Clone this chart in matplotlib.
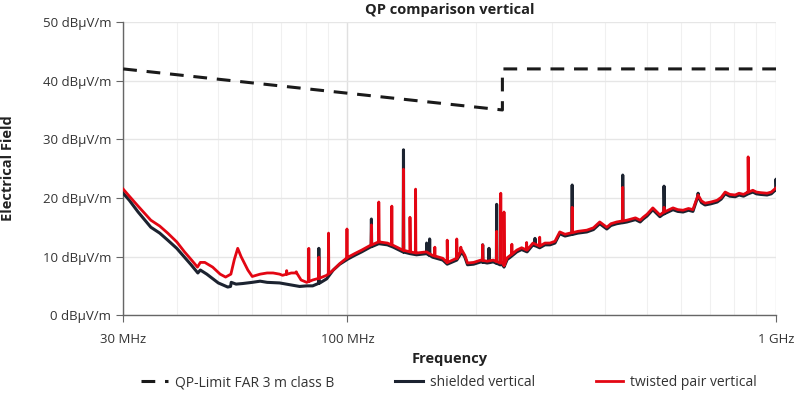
import matplotlib

matplotlib.use("Agg")
import matplotlib.pyplot as plt
from matplotlib.ticker import FixedLocator, NullFormatter
import numpy as np

plt.rcParams["font.family"] = ["Open Sans", "DejaVu Sans"]

# QP limit, FAR 3 m class B
LIMIT_F = [30, 230, 230, 1000]
LIMIT_DB = [42, 35, 42, 42]

# twisted pair baseline (MHz, dBuV/m)
TP_F = [30, 31, 32.5, 34.8, 36.5, 38.1, 40, 41.7, 43.2, 44.7, 45.4, 46.5, 48.5, 50.5,
        52, 53.5, 54.5, 55.5, 56.5, 58.6, 60, 62.6, 65, 67.1, 69.5, 70.6, 74, 76.2,
        78, 80.4, 83, 86, 89.5, 92.7, 96, 100.4, 104, 108, 113, 118.4, 124, 128,
        134.6, 140, 145, 153, 158, 167, 171, 180, 185, 188, 190.7, 197, 205, 212,
        219, 227, 230.5, 232, 236, 240, 248.5, 255, 262.6, 271, 281, 289, 297, 305,
        313, 322, 331, 345, 362, 375, 388, 403, 412, 425, 449, 470, 482, 490, 500,
        516, 536, 548, 560, 575, 590, 607, 625, 640, 658, 670, 683, 705, 729, 745,
        761, 780, 803, 820, 840, 861, 883, 900, 920, 953, 975, 1000]
TP_DB = [21.5, 20.3, 18.6, 16.2, 15.2, 14.0, 12.5, 10.8, 9.5, 8.2, 9.0, 9.0, 8.2, 7.0,
         6.5, 7.0, 9.5, 11.4, 10.0, 7.7, 6.6, 7.0, 7.2, 7.2, 7.0, 6.8, 7.2, 7.2,
         6.0, 5.6, 6.0, 6.3, 6.8, 7.7, 8.8, 9.9, 10.5, 11.1, 11.9, 12.5, 12.3, 11.9,
         11.1, 10.8, 10.6, 10.8, 10.2, 9.7, 9.0, 9.7, 11.1, 10.2, 8.9, 9.0, 9.4, 9.2,
         9.4, 8.9, 8.9, 8.5, 9.8, 10.2, 11.1, 11.5, 11.1, 12.3, 11.8, 12.3, 12.3, 12.6,
         14.2, 13.8, 14.0, 14.3, 14.5, 14.9, 15.9, 15.0, 15.6, 15.9, 16.2, 16.6, 16.2, 16.7, 17.2,
         18.3, 17.1, 17.6, 17.9, 18.3, 18.0, 17.9, 18.2, 18.0, 20.5, 19.5, 19.1, 19.3, 19.6, 20.1,
         21.0, 20.6, 20.5, 20.8, 20.6, 21.0, 21.3, 21.0, 20.9, 20.8, 21.0, 21.7]

# shielded baseline (MHz, dBuV/m)
SH_F = [30, 31, 32.5, 34.8, 36.5, 38.1, 40, 41.7, 43.2, 44.8, 45.4, 47, 50, 52.6,
        53.4, 53.6, 55, 57, 60, 62.6, 65, 69.5, 72, 77.4, 80.4, 83, 86.3, 89.5,
        92.7, 96, 100.4, 104, 108, 113, 118.4, 124, 128, 134.6, 140, 145, 153, 158,
        167, 171, 180, 185, 188, 190.7, 197, 205, 212, 219, 227, 230.5, 232, 236, 240,
        248.5, 255, 262.6, 271, 281, 289, 297, 305, 313, 322, 331, 345, 362, 375, 388,
        403, 412, 425, 449, 470, 482, 490, 500, 516, 536, 548, 560, 575, 590, 607, 625,
        640, 658, 670, 683, 705, 729, 745, 761, 780, 803, 820, 840, 861, 883, 900, 920,
        953, 975, 1000]
SH_DB = [20.8, 19.6, 17.6, 15.0, 14.0, 12.8, 11.4, 9.9, 8.6, 7.2, 7.7, 7.0, 5.5, 4.8,
         4.9, 5.6, 5.3, 5.4, 5.6, 5.8, 5.6, 5.5, 5.3, 4.9, 5.0, 5.0, 5.5, 6.2,
         7.7, 8.7, 9.6, 10.2, 10.8, 11.6, 12.2, 12.0, 11.6, 10.8, 10.5, 10.3, 10.5, 9.9,
         9.4, 8.7, 9.4, 10.8, 9.9, 8.6, 8.7, 9.1, 8.9, 9.1, 8.6, 8.6, 8.2, 9.5, 9.9,
         10.8, 11.2, 10.8, 12.0, 11.5, 12.0, 12.0, 12.3, 13.9, 13.5, 13.7, 14.0, 14.2, 14.6, 15.6,
         14.7, 15.3, 15.6, 15.9, 16.3, 15.9, 16.4, 16.9, 18.0, 16.8, 17.3, 17.6, 18.0, 17.7, 17.6,
         17.9, 17.7, 20.2, 19.2, 18.8, 19.0, 19.3, 19.8, 20.7, 20.3, 20.2, 20.5, 20.3, 20.7, 21.0,
         20.7, 20.6, 20.5, 20.7, 21.4]

# narrowband spikes (MHz, peak dBuV/m)
TP_SPIKE_F = [72.2, 76, 81.3, 85.8, 90.4, 99.8, 113.8, 118.4, 127, 135.2, 140, 144.3,
              160, 171, 180, 184, 206.9, 223, 228, 232, 242, 262, 281, 334.6, 439, 548, 861]
TP_SPIKE_DB = [7.6, 7.4, 11.4, 9.9, 14.0, 14.7, 15.4, 19.3, 18.6, 24.9, 16.7, 21.5,
               11.6, 12.8, 13.0, 11.6, 12.0, 14.3, 20.8, 17.6, 12.1, 12.4, 13.3, 18.4, 21.8, 18.4, 27.0]
SH_SPIKE_F = [85.8, 113.8, 135.2, 153.1, 155.6, 206.9, 214, 223, 274, 334.6, 439, 548, 658, 1000]
SH_SPIKE_DB = [11.4, 16.4, 28.2, 12.3, 13.0, 12.0, 11.4, 18.9, 13.1, 22.2, 23.9, 22.0, 20.8, 23.2]


def with_spikes(base_f, base_db, spike_f, spike_db):
    f = np.array(base_f, dtype=float)
    db = np.array(base_db, dtype=float)
    pts = list(zip(f, db))
    for sf, sd in zip(spike_f, spike_db):
        foot = np.interp(sf, f, db)
        pts += [(sf * 0.9985, foot), (sf, sd), (sf * 1.0015, foot)]
    pts.sort(key=lambda p: p[0])
    return [p[0] for p in pts], [p[1] for p in pts]


fig = plt.figure(figsize=(8, 3.93), dpi=100)
ax = fig.add_axes([0.154, 0.198, 0.816, 0.746])

ax.plot(LIMIT_F, LIMIT_DB, color="#1a1a1a", lw=2.2, dashes=(4.5, 3.2),
        label="QP-Limit FAR 3 m class B", zorder=3)
sf, sd = with_spikes(SH_F, SH_DB, SH_SPIKE_F, SH_SPIKE_DB)
ax.plot(sf, sd, color="#1c2330", lw=2.2, label="shielded vertical", zorder=4)
tf, td = with_spikes(TP_F, TP_DB, TP_SPIKE_F, TP_SPIKE_DB)
ax.plot(tf, td, color="#e30613", lw=2.0, label="twisted pair vertical", zorder=5)

ax.set_xscale("log")
ax.set_xlim(30, 1000)
ax.set_ylim(0, 50)
ax.xaxis.set_major_locator(FixedLocator([30, 100, 1000]))
ax.set_xticklabels(["30 MHz", "100 MHz", "1 GHz"])
ax.xaxis.set_minor_locator(FixedLocator([40, 50, 60, 70, 80, 90, 200, 300, 400,
                                         500, 600, 700, 800, 900]))
ax.xaxis.set_minor_formatter(NullFormatter())
ax.set_yticks(range(0, 51, 10))
ax.set_yticklabels([f"{v} dBµV/m" for v in range(0, 51, 10)])

ax.grid(True, which="major", axis="y", color="#e6e6e6", lw=1.0)
ax.grid(True, which="major", axis="x", color="#e0e0e0", lw=1.0)
ax.grid(True, which="minor", axis="x", color="#f0f0f0", lw=0.8)
ax.tick_params(axis="both", which="major", length=5, color="#666666",
               labelsize=9.5, labelcolor="#333333")
ax.tick_params(axis="x", which="minor", length=0)
ax.tick_params(axis="x", pad=8)
for side in ("top", "right"):
    ax.spines[side].set_visible(False)
for side in ("left", "bottom"):
    ax.spines[side].set_color("#666666")
    ax.spines[side].set_linewidth(1.0)

ax.set_title("QP comparison vertical", fontsize=10.5, fontweight="bold",
             color="#222222", pad=6)
ax.set_xlabel("Frequency", fontsize=10.5, fontweight="bold", color="#222222", labelpad=4)
ax.set_ylabel("Electrical Field", fontsize=10.5, fontweight="bold", color="#222222", labelpad=20)

fig.legend(loc="lower center", bbox_to_anchor=(0.561, -0.025), ncol=3, frameon=False,
           fontsize=10, handlelength=1.95, handletextpad=0.5, columnspacing=4.4,
           labelcolor="#333333")

fig.savefig("out.png", dpi=100)
plt.close(fig)
